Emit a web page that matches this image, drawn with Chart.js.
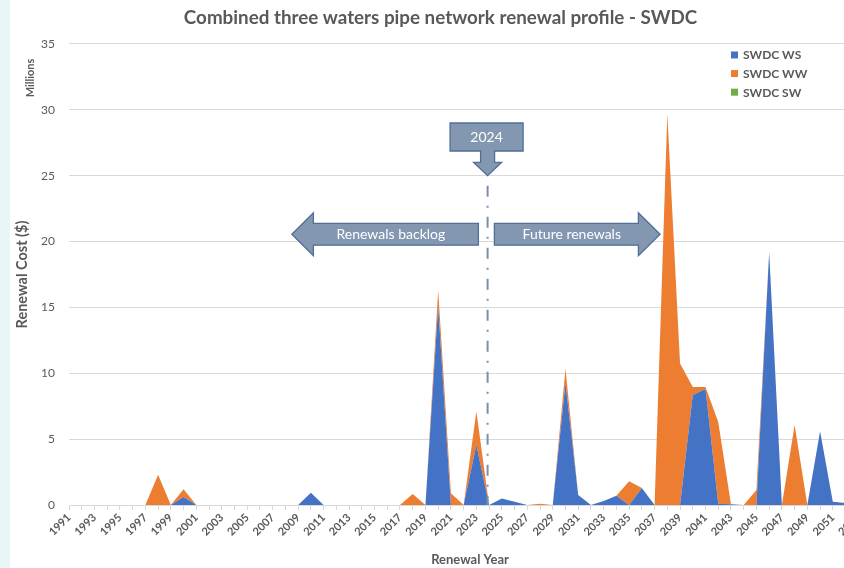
<!DOCTYPE html>
<html><head><meta charset="utf-8">
<script src="https://cdn.jsdelivr.net/npm/chart.js@4.4.1/dist/chart.umd.min.js"></script>
<style>
html,body{margin:0;padding:0;background:#fff;overflow:hidden;width:844px;height:568px;}
#strip{position:absolute;left:0;top:0;width:10px;height:568px;background:#e8f6f7;}
#c{position:absolute;left:0;top:0;}
</style></head><body>
<div id="strip"></div>
<canvas id="c" width="876" height="568"></canvas>
<script>
const chartTitle = 'Combined three waters pipe network renewal profile - SWDC';
const years = ['1991','1992','1993','1994','1995','1996','1997','1998','1999','2000',
  '2001','2002','2003','2004','2005','2006','2007','2008','2009','2010',
  '2011','2012','2013','2014','2015','2016','2017','2018','2019','2020',
  '2021','2022','2023','2024','2025','2026','2027','2028','2029','2030',
  '2031','2032','2033','2034','2035','2036','2037','2038','2039','2040',
  '2041','2042','2043','2044','2045','2046','2047','2048','2049','2050',
  '2051','2052','2053','2054'];
// Millions of dollars (stacked: WS bottom, WW on top, SW on top)
const wsValues = [0,0,0,0,0,0,0,0,0,0.6,
  0,0,0,0,0,0,0,0,0,0.93,
  0,0,0,0,0,0,0,0,0,15.1,
  0,0,4.55,0,0.5,0.25,0,0,0,9.25,
  0.75,0,0.3,0.7,0,1.3,0,0,0,8.35,
  8.8,0.1,0.05,0,0,19.2,0,0,0,5.6,
  0.25,0.15,0.1,0.1];
const wwValues = [0,0,0,0,0,0,0,2.3,0,0.6,
  0,0,0,0,0,0,0,0,0,0,
  0,0,0,0,0,0,0,0.83,0,1.2,
  0.9,0,2.55,0,0,0,0,0.1,0,1.1,
  0,0,0,0,1.8,0,0,29.7,10.75,0.6,
  0.15,6.2,0,0,1.14,0,0,6.07,0,0,
  0,0,0,0];
const swValues = [0,0,0,0,0,0,0,0,0,0,
  0,0,0,0,0,0,0,0,0,0,
  0,0,0,0,0,0,0,0,0,0,
  0,0,0,0,0,0,0,0,0,0,
  0,0,0,0,0,0,0,0,0,0,
  0,0,0,0,0,0,0,0,0,0,
  0,0,0,0];
const seriesNames = ['SWDC WS','SWDC WW','SWDC SW'];
const seriesColors = ['#4472C4','#ED7D31','#70AD47'];
const yTickValues = [0,5,10,15,20,25,30,35];
const markerYear = '2024';
const backlogText = 'Renewals backlog';
const futureText = 'Future renewals';

const FONT = 'Lato, "Liberation Sans", sans-serif';
const GREY = '#595959';

const annotPlugin = {
  id: 'annot',
  afterDatasetsDraw(chart) {
    const {ctx, scales: {x, y}, chartArea} = chart;
    const x0 = x.getPixelForValue(years.indexOf(markerYear)) - 1.5;
    const tipY = y.getPixelForValue(25);
    const arrowY = y.getPixelForValue(20.55);
    ctx.save();
    // dash-dot line
    ctx.strokeStyle = '#7d8fa8';
    ctx.lineWidth = 2;
    ctx.setLineDash([11, 9, 2, 9]);
    ctx.beginPath();
    ctx.moveTo(x0, tipY + 10);
    ctx.lineTo(x0, chartArea.bottom);
    ctx.stroke();
    ctx.setLineDash([]);

    ctx.fillStyle = '#8497B0';
    ctx.strokeStyle = '#4f6f95';
    ctx.lineWidth = 1.3;
    ctx.lineJoin = 'miter';
    // callout box with down arrow
    const bl = x0 - 37.5, br = x0 + 35.5, bt = tipY - 52.7, bb = tipY - 24.7, nb = tipY - 13.4;
    ctx.beginPath();
    ctx.moveTo(bl, bt); ctx.lineTo(br, bt); ctx.lineTo(br, bb);
    ctx.lineTo(x0 + 7, bb); ctx.lineTo(x0 + 7, nb); ctx.lineTo(x0 + 14, nb);
    ctx.lineTo(x0, tipY);
    ctx.lineTo(x0 - 14, nb); ctx.lineTo(x0 - 7, nb); ctx.lineTo(x0 - 7, bb);
    ctx.lineTo(bl, bb); ctx.closePath();
    ctx.fill(); ctx.stroke();
    // left arrow
    const bh = 10.85, hh = 21.5;
    ctx.beginPath();
    ctx.moveTo(x0 - 9.2, arrowY - bh); ctx.lineTo(x0 - 174.2, arrowY - bh);
    ctx.lineTo(x0 - 174.2, arrowY - hh); ctx.lineTo(x0 - 195.8, arrowY);
    ctx.lineTo(x0 - 174.2, arrowY + hh); ctx.lineTo(x0 - 174.2, arrowY + bh);
    ctx.lineTo(x0 - 9.2, arrowY + bh); ctx.closePath();
    ctx.fill(); ctx.stroke();
    // right arrow
    ctx.beginPath();
    ctx.moveTo(x0 + 6.8, arrowY - bh); ctx.lineTo(x0 + 150.8, arrowY - bh);
    ctx.lineTo(x0 + 150.8, arrowY - hh); ctx.lineTo(x0 + 172.5, arrowY);
    ctx.lineTo(x0 + 150.8, arrowY + hh); ctx.lineTo(x0 + 150.8, arrowY + bh);
    ctx.lineTo(x0 + 6.8, arrowY + bh); ctx.closePath();
    ctx.fill(); ctx.stroke();
    // texts
    ctx.fillStyle = '#ffffff';
    ctx.font = '14px ' + FONT;
    ctx.textAlign = 'center';
    ctx.textBaseline = 'middle';
    ctx.fillText(markerYear, (bl + br) / 2, (bt + bb) / 2);
    ctx.fillText(backlogText, x0 - 96.7, arrowY);
    ctx.fillText(futureText, x0 + 84.2, arrowY);

    // legend
    const lx = chartArea.right - 140, ly = chartArea.top + 11;
    ctx.font = 'bold 12px ' + FONT;
    ctx.textAlign = 'left';
    for (let i = 0; i < seriesNames.length; i++) {
      const yy = ly + i * 18.6;
      ctx.fillStyle = seriesColors[i];
      ctx.fillRect(lx, yy - 3.5, 7, 7);
      ctx.fillStyle = GREY;
      ctx.fillText(seriesNames[i], lx + 12, yy + 0.5);
    }
    // "Millions" unit label
    ctx.save();
    ctx.translate(30, chartArea.top + 34);
    ctx.rotate(-Math.PI / 2);
    ctx.font = 'bold 11px ' + FONT;
    ctx.fillStyle = GREY;
    ctx.textAlign = 'center';
    ctx.fillText('Millions', 0, 0);
    ctx.restore();
    ctx.restore();
  }
};

const mk = (i, data, fill) => ({
  label: seriesNames[i], data, backgroundColor: seriesColors[i], borderColor: seriesColors[i],
  borderWidth: 0, fill, pointRadius: 0, pointHoverRadius: 0, tension: 0
});

new Chart(document.getElementById('c'), {
  type: 'line',
  data: {
    labels: years,
    datasets: [mk(0, wsValues, 'origin'), mk(1, wwValues, '-1'), mk(2, swValues, '-1')]
  },
  options: {
    responsive: false, animation: false, devicePixelRatio: 1,
    layout: {padding: {left: 10, right: 5, top: 0, bottom: 0}},
    plugins: {
      legend: {display: false}, tooltip: {enabled: false},
      title: {display: true, text: chartTitle, color: GREY,
        font: {family: FONT, size: 18.8, weight: 'bold', lineHeight: 1.2},
        padding: {top: 6.4, bottom: 15.0}}
    },
    scales: {
      x: {
        offset: false,
        grid: {drawOnChartArea: false, drawTicks: true, tickLength: 5, color: '#d9d9d9'},
        border: {color: '#d9d9d9', width: 1},
        ticks: {autoSkip: false, maxRotation: 45, minRotation: 45, color: GREY, padding: 1,
          font: {family: FONT, size: 11, weight: 'bold'},
          callback: function(v, i) { return i % 2 === 0 ? years[i] : ''; }},
        title: {display: true, text: 'Renewal Year', color: GREY,
          font: {family: FONT, size: 13, weight: 'bold', lineHeight: 1.2}, padding: {top: 0, bottom: 0}},
        afterFit(s) { s.height = 63; s.paddingLeft = 0; s.paddingRight = 0; }
      },
      y: {
        stacked: true, min: 0, max: 35,
        afterBuildTicks(s) { s.ticks = yTickValues.map(v => ({value: v})); },
        grid: {color: '#d9d9d9', drawTicks: false},
        border: {display: false},
        ticks: {color: GREY, padding: 14, font: {family: FONT, size: 12}},
        title: {display: true, text: 'Renewal Cost ($)', color: GREY,
          font: {family: FONT, size: 14.5, weight: 'bold', lineHeight: 1.2}, padding: {top: 3.5, bottom: 0}},
        afterFit(s) { s.width = 59; s.paddingTop = 0; s.paddingBottom = 0; }
      }
    }
  },
  plugins: [annotPlugin]
});
</script>
</body></html>
